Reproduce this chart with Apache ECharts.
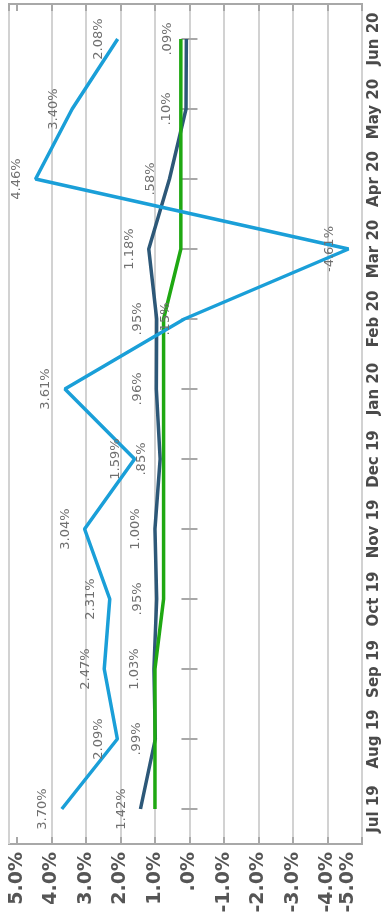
<!DOCTYPE html>
<html>
<head>
<meta charset="utf-8">
<script src="https://cdn.jsdelivr.net/npm/echarts@6/dist/echarts.min.js"></script>
<style>
  html, body { margin: 0; padding: 0; background: #fff; }
  #chart { width: 382px; height: 919px; }
</style>
</head>
<body>
<div id="chart"></div>
<script>
// Months along the (vertical) time axis, oldest at the bottom
const months = ['Jul 19', 'Aug 19', 'Sep 19', 'Oct 19', 'Nov 19', 'Dec 19',
                'Jan 20', 'Feb 20', 'Mar 20', 'Apr 20', 'May 20', 'Jun 20'];

// Percent ticks of the value axis
const valueTicks = [-5, -4, -3, -2, -1, 0, 1, 2, 3, 4, 5];

// Monthly returns, %
const lightBlueValues = [3.70, 2.09, 2.47, 2.31, 3.04, 1.59, 3.61, 0.15, -4.61, 4.46, 3.40, 2.08];
const navyValues      = [1.42, 0.99, 1.03, 0.95, 1.00, 0.85, 0.96, 0.95, 1.18, 0.58, 0.10, 0.09];
const greenValues     = [1.00, 1.00, 1.00, 0.75, 0.75, 0.75, 0.75, 0.75, 0.25, 0.25, 0.25, 0.25];

// "0.85" -> ".85%", "-4.61" -> "-4.61%", "0" -> ".0%"
function pct(v, digits) {
  let s = Math.abs(v).toFixed(digits);
  if (s.charAt(0) === '0') s = s.slice(1);
  return (v < 0 ? '-' : '') + s + '%';
}

const GRID_LINE = '#d2d2d2';
const FRAME = '#a8a8a8';
const AXIS_TEXT = '#4a4a4a';

const VALUE_MIN = -5, VALUE_MAX = 5.23;

function pairs(values) {
  return values.map((v, i) => [v, months[i]]);
}

const pointLabel = {
  show: true,
  position: 'left',
  distance: 19,
  rotate: 90,
  align: 'center',
  verticalAlign: 'middle',
  fontFamily: 'DejaVu Sans',
  fontSize: 13,
  color: '#707070',
  formatter: p => pct(p.value[0], 2)
};

// split-line colours follow tick order (-5 ... 5, then the 5.23 edge); the 5% line stays hidden
const splitColors = valueTicks.map(t => (t === 5 ? 'rgba(0,0,0,0)' : GRID_LINE));
splitColors.push(GRID_LINE);

const valueLabelFont = {
  fontFamily: 'DejaVu Sans',
  fontSize: 19,
  fontWeight: 'bold',
  color: '#555'
};

const chart = echarts.init(document.getElementById('chart'), null, { renderer: 'canvas' });

chart.setOption({
  animation: false,
  backgroundColor: '#fff',
  grid: {
    left: 9, right: 20, top: 4, bottom: 75,
    show: true,
    borderColor: FRAME,
    borderWidth: 2,
    backgroundColor: 'transparent'
  },
  xAxis: [
    {
      type: 'value',
      position: 'bottom',
      inverse: true,
      min: VALUE_MIN,
      max: VALUE_MAX,
      interval: 1,
      axisLine: { show: false },
      axisTick: { show: true, inside: true, length: 7, lineStyle: { color: FRAME, width: 2 } },
      splitLine: { show: true, lineStyle: { color: splitColors, width: 2 } },
      axisLabel: Object.assign({
        rotate: 90,
        margin: 8,
        showMaxLabel: false,
        formatter: v => {
          if (valueTicks.indexOf(v) < 0) return '';
          if (v === -5) return '{edge|' + pct(v, 1) + '}';
          return pct(v, 1);
        },
        rich: {
          edge: Object.assign({ padding: [0, 0, 28, 0] }, valueLabelFont)
        }
      }, valueLabelFont)
    },
    {
      type: 'value',
      position: 'top',
      inverse: true,
      min: VALUE_MIN,
      max: VALUE_MAX,
      interval: 1,
      axisLine: { show: false },
      axisTick: { show: true, inside: true, length: 7, lineStyle: { color: FRAME, width: 2 } },
      splitLine: { show: false },
      axisLabel: { show: false }
    }
  ],
  yAxis: [
    {
      type: 'category',
      position: 'right',
      data: months,
      boundaryGap: true,
      axisLine: { show: false },
      axisTick: { show: true, inside: true, alignWithLabel: true, interval: 0, length: 8, lineStyle: { color: FRAME, width: 2 } },
      splitLine: { show: false },
      axisLabel: {
        interval: 0,
        rotate: 90,
        margin: 12,
        align: 'center',
        verticalAlign: 'middle',
        fontFamily: 'DejaVu Sans',
        fontSize: 15,
        fontWeight: 'bold',
        color: AXIS_TEXT
      }
    },
    {
      type: 'category',
      position: 'left',
      data: months,
      boundaryGap: true,
      axisLine: { show: false },
      axisTick: { show: true, inside: true, alignWithLabel: true, interval: 0, length: 8, lineStyle: { color: FRAME, width: 2 } },
      splitLine: { show: false },
      axisLabel: { show: false }
    }
  ],
  series: [
    {
      name: 'Navy',
      type: 'line',
      xAxisIndex: 0, yAxisIndex: 0,
      data: pairs(navyValues),
      symbol: 'circle',
      symbolSize: 0,
      showSymbol: true,
      lineStyle: { color: '#2d5878', width: 3.5 },
      itemStyle: { color: '#2d5878' },
      label: pointLabel,
      z: 2
    },
    {
      name: 'Green',
      type: 'line',
      xAxisIndex: 0, yAxisIndex: 0,
      data: pairs(greenValues),
      symbol: 'none',
      lineStyle: { color: '#1fa812', width: 3.5 },
      itemStyle: { color: '#1fa812' },
      label: { show: false },
      z: 3
    },
    {
      name: 'Light blue',
      type: 'line',
      xAxisIndex: 0, yAxisIndex: 0,
      data: pairs(lightBlueValues),
      symbol: 'circle',
      symbolSize: 0,
      showSymbol: true,
      lineStyle: { color: '#1a9fd8', width: 3.5 },
      itemStyle: { color: '#1a9fd8' },
      label: pointLabel,
      z: 4
    }
  ]
});
</script>
</body>
</html>
